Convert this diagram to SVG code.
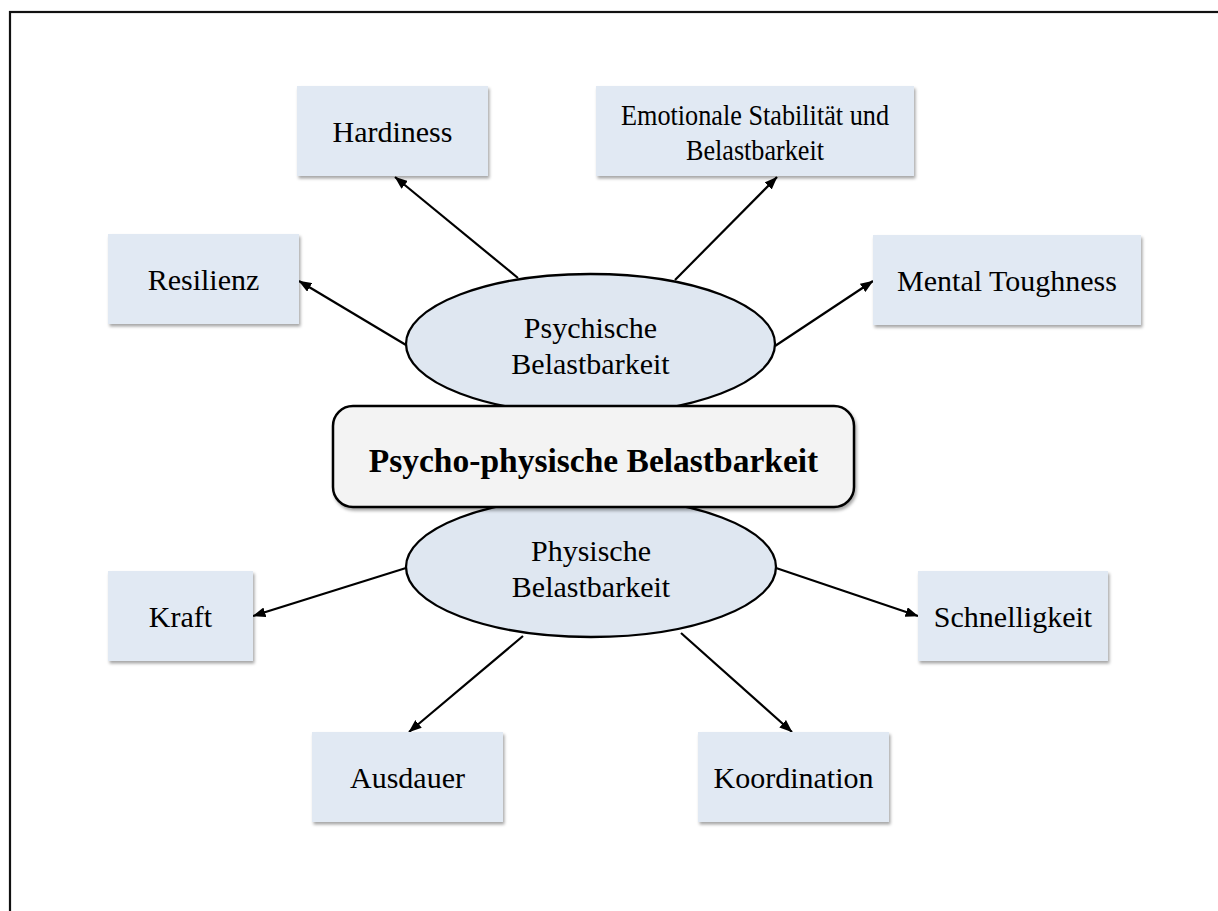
<svg xmlns="http://www.w3.org/2000/svg" width="1218" height="911" viewBox="0 0 1218 911">
  <style>
    .box { fill: #e1e9f3; }
    .oval { fill: #dfe7f1; stroke: #000; stroke-width: 2.3; }
    .core { fill: #f3f3f3; stroke: #000; stroke-width: 2.5; }
    .lbl { font-family: "Liberation Serif", "Times New Roman", serif; font-size: 30px; fill: #000; text-anchor: middle; }
    .lbl.narrow { font-size: 29px; }
    .title { font-family: "Liberation Serif", "Times New Roman", serif; font-size: 33.5px; font-weight: bold; fill: #000; text-anchor: middle; }
    .edge { stroke: #000; stroke-width: 2.2; fill: none; marker-end: url(#tip); }
  </style>
  <defs>
    <filter id="shade" x="-10%" y="-10%" width="125%" height="130%">
      <feDropShadow dx="1.5" dy="2.5" stdDeviation="1.5" flood-color="#000" flood-opacity="0.35"/>
    </filter>
    <marker id="tip" viewBox="0 0 13 10" refX="12.5" refY="5" markerWidth="13" markerHeight="10" markerUnits="userSpaceOnUse" orient="auto">
      <path d="M0,0 L13,5 L0,10 z" fill="#000"/>
    </marker>
  </defs>

  <!-- page frame -->
  <rect x="10" y="12" width="1230" height="920" fill="#fff" stroke="#111" stroke-width="2.2"/>

  <!-- connectors -->
  <g id="connectors">
    <line class="edge" x1="518" y1="278" x2="395" y2="177"/>
    <line class="edge" x1="406" y1="345" x2="299" y2="281"/>
    <line class="edge" x1="675" y1="280" x2="777" y2="177"/>
    <line class="edge" x1="775" y1="346" x2="873" y2="281"/>
    <line class="edge" x1="406" y1="568" x2="253" y2="616"/>
    <line class="edge" x1="523" y1="636" x2="409" y2="732"/>
    <line class="edge" x1="681" y1="633" x2="792" y2="732"/>
    <line class="edge" x1="776" y1="568" x2="918" y2="616"/>
  </g>

  <!-- upper branch -->
  <g id="hardiness">
    <rect class="box" x="297" y="86" width="191" height="90" filter="url(#shade)"/>
    <text class="lbl" x="392.5" y="142">Hardiness</text>
  </g>
  <g id="emotionale-stabilitaet">
    <rect class="box" x="596" y="86" width="318" height="90" filter="url(#shade)"/>
    <text class="lbl narrow" x="755" y="125" textLength="268" lengthAdjust="spacingAndGlyphs">Emotionale Stabilität und</text>
    <text class="lbl narrow" x="755" y="160" textLength="138" lengthAdjust="spacingAndGlyphs">Belastbarkeit</text>
  </g>
  <g id="resilienz">
    <rect class="box" x="108" y="234" width="191" height="90" filter="url(#shade)"/>
    <text class="lbl" x="203.5" y="290">Resilienz</text>
  </g>
  <g id="mental-toughness">
    <rect class="box" x="873" y="235" width="268" height="90" filter="url(#shade)"/>
    <text class="lbl" x="1007" y="291">Mental Toughness</text>
  </g>
  <g id="psychische-belastbarkeit">
    <ellipse class="oval" cx="590.5" cy="344" rx="184.5" ry="70"/>
    <text class="lbl" x="590.5" y="338">Psychische</text>
    <text class="lbl" x="590.5" y="374">Belastbarkeit</text>
  </g>

  <!-- lower branch -->
  <g id="physische-belastbarkeit">
    <ellipse class="oval" cx="591" cy="567" rx="185" ry="70"/>
    <text class="lbl" x="591" y="561">Physische</text>
    <text class="lbl" x="591" y="597">Belastbarkeit</text>
  </g>
  <g id="kraft">
    <rect class="box" x="108" y="571" width="145" height="90" filter="url(#shade)"/>
    <text class="lbl" x="180.5" y="627">Kraft</text>
  </g>
  <g id="schnelligkeit">
    <rect class="box" x="918" y="571" width="190" height="90" filter="url(#shade)"/>
    <text class="lbl" x="1013" y="627">Schnelligkeit</text>
  </g>
  <g id="ausdauer">
    <rect class="box" x="312" y="732" width="191" height="90" filter="url(#shade)"/>
    <text class="lbl" x="407.5" y="788">Ausdauer</text>
  </g>
  <g id="koordination">
    <rect class="box" x="698" y="732" width="191" height="90" filter="url(#shade)"/>
    <text class="lbl" x="793.5" y="788">Koordination</text>
  </g>

  <!-- central concept -->
  <g id="psycho-physische-belastbarkeit">
    <rect class="core" x="333" y="406" width="521" height="101" rx="20" ry="20" filter="url(#shade)"/>
    <text class="title" x="593.5" y="472">Psycho-physische Belastbarkeit</text>
  </g>
</svg>
